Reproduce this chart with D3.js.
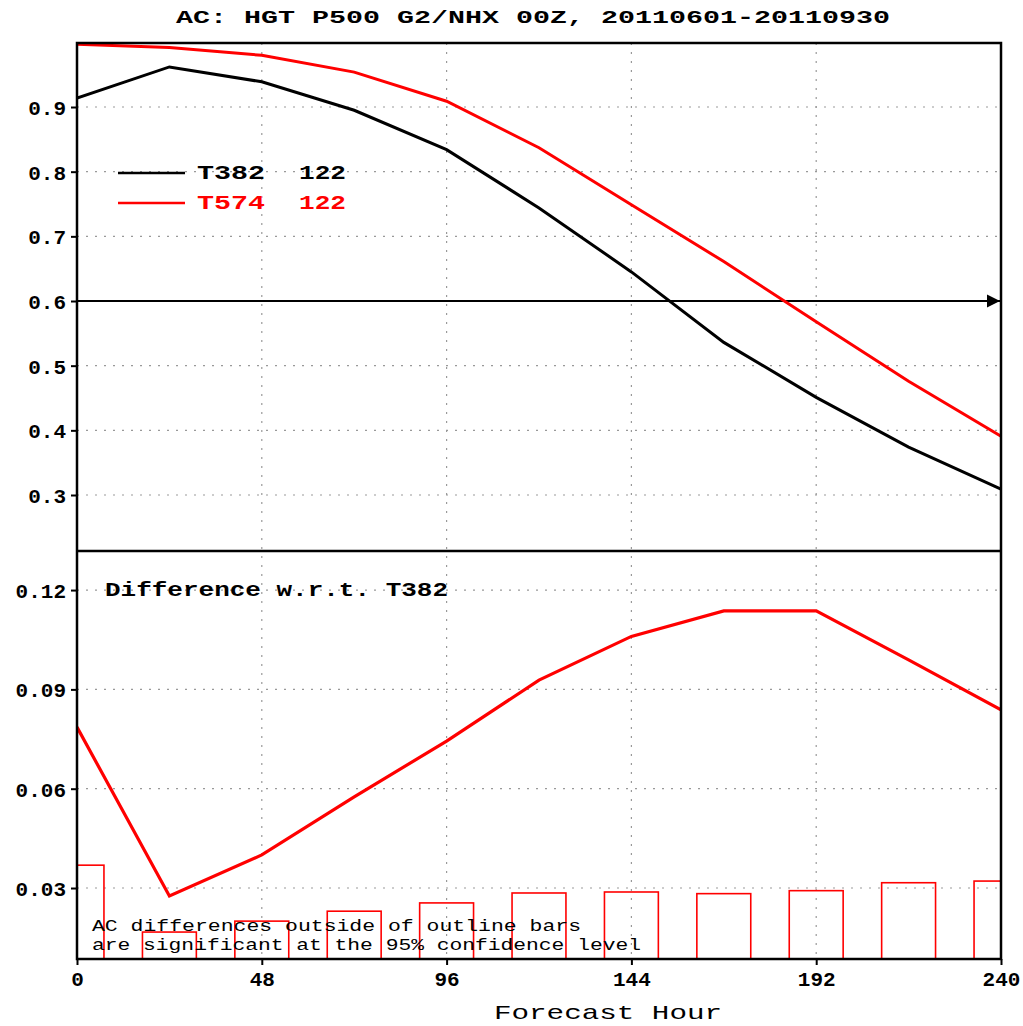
<!DOCTYPE html>
<html><head><meta charset="utf-8">
<script src="https://cdn.jsdelivr.net/npm/d3@7"></script>
<style>body{margin:0;background:#fff}svg{display:block}</style>
</head><body>
<script>
const hours = [0,24,48,72,96,120,144,168,192,216,240];
const t382 = [0.914,0.962,0.939,0.895,0.834,0.744,0.645,0.536,0.451,0.374,0.309];
const t574 = [0.997,0.992,0.980,0.954,0.909,0.837,0.749,0.661,0.568,0.476,0.391];
const diff = [0.0786,0.0276,0.0400,0.0575,0.0744,0.0928,0.1060,0.1137,0.1137,0.0989,0.0838];
const sigBars = [0.0369,0.0167,0.0200,0.0230,0.0255,0.0285,0.0288,0.0283,0.0292,0.0316,0.0321];
const xTicks = [0,48,96,144,192,240];
const topTicks = [0.3,0.4,0.5,0.6,0.7,0.8,0.9];
const botTicks = [0.03,0.06,0.09,0.12];
const topTickLabels = ["0.3","0.4","0.5","0.6","0.7","0.8","0.9"];
const botTickLabels = ["0.03","0.06","0.09","0.12"];
const series = [{name:"T382",n:"122",color:"#000",vals:t382},{name:"T574",n:"122",color:"#f00",vals:t574}];
const refLine = 0.6;

const W=1023,H=1026;
const L=77,R=1001,T=43,M=551,B=959;
const svg=d3.select("body").append("svg").attr("width",W).attr("height",H);
const x=d3.scaleLinear().domain([0,240]).range([L,R]);
const yT=d3.scaleLinear().domain([0.2134,0.9990]).range([M,T]);
const yB=d3.scaleLinear().domain([0.00856,0.1318]).range([B,M]);
const mono='"Liberation Mono","DejaVu Sans Mono",monospace';

svg.append("defs").html(`
<clipPath id="cT"><rect x="${L}" y="${T}" width="${R-L}" height="${M-T}"/></clipPath>
<clipPath id="cB"><rect x="${L}" y="${M}" width="${R-L}" height="${B-M}"/></clipPath>
<marker id="arr" viewBox="0 0 10 10" refX="10" refY="5" markerWidth="6" markerHeight="6" orient="auto" markerUnits="strokeWidth"><path d="M0,0L10,5L0,10z" fill="#000"/></marker>`);

// grid
const g=svg.append("g").attr("stroke","#999").attr("stroke-width",1.2).attr("stroke-dasharray","2,7");
xTicks.filter(d=>d>0&&d<240).forEach(d=>{
  g.append("line").attr("x1",x(d)).attr("x2",x(d)).attr("y1",T).attr("y2",B);
});
topTicks.forEach(d=>g.append("line").attr("x1",L).attr("x2",R).attr("y1",yT(d)).attr("y2",yT(d)));
botTicks.forEach(d=>g.append("line").attr("x1",L).attr("x2",R).attr("y1",yB(d)).attr("y2",yB(d)));

// significance bars
const bw = x(7)-x(0);
svg.append("g").attr("clip-path","url(#cB)").selectAll("rect").data(hours).join("rect")
  .attr("x",(d)=>x(d)-bw).attr("width",2*bw)
  .attr("y",(d,i)=>yB(sigBars[i])).attr("height",(d,i)=>yB(0.00856)-yB(sigBars[i]))
  .attr("fill","none").attr("stroke","#f00").attr("stroke-width",1.6);

// ref arrow line
svg.append("line").attr("x1",L).attr("x2",R-1).attr("y1",yT(refLine)).attr("y2",yT(refLine))
  .attr("stroke","#000").attr("stroke-width",2.2).attr("marker-end","url(#arr)");

// top lines
const lineT=d3.line().x((d,i)=>x(hours[i])).y(d=>yT(d));
svg.append("g").attr("clip-path","url(#cT)").selectAll("path").data(series).join("path")
  .attr("d",d=>lineT(d.vals)).attr("fill","none").attr("stroke",d=>d.color).attr("stroke-width",3);

// diff line
const lineB=d3.line().x((d,i)=>x(hours[i])).y(d=>yB(d));
svg.append("path").attr("clip-path","url(#cB)").attr("d",lineB(diff)).attr("fill","none").attr("stroke","#f00").attr("stroke-width",3.2);

// frame
svg.append("rect").attr("x",L).attr("y",T).attr("width",R-L).attr("height",B-T).attr("fill","none").attr("stroke","#000").attr("stroke-width",2.5);
svg.append("line").attr("x1",L).attr("x2",R).attr("y1",M).attr("y2",M).attr("stroke","#000").attr("stroke-width",2.5);

// axes
const axL=svg.append("g").attr("transform",`translate(${L},0)`);
axL.append("g").call(d3.axisLeft(yT).tickValues(topTicks).tickFormat((d,i)=>topTickLabels[i]).tickSize(6).tickPadding(5));
axL.append("g").call(d3.axisLeft(yB).tickValues(botTicks).tickFormat((d,i)=>botTickLabels[i]).tickSize(6).tickPadding(5));
axL.selectAll(".domain").remove();
axL.selectAll("line").attr("stroke","#000").attr("stroke-width",2);
axL.selectAll("text").attr("font-family",mono).attr("font-weight","bold").attr("font-size",21).attr("fill","#000").attr("dy","0.36em");
const axB=svg.append("g").attr("transform",`translate(0,${B})`).call(d3.axisBottom(x).tickValues(xTicks).tickFormat(d3.format("d")).tickSize(6).tickPadding(5));
axB.select(".domain").remove();
axB.selectAll("line").attr("stroke","#000").attr("stroke-width",2);
axB.selectAll("text").attr("font-family",mono).attr("font-weight","bold").attr("font-size",21).attr("fill","#000").attr("dy","0.75em");

// title
svg.append("text").attr("x",176).attr("y",23).attr("textLength",714).attr("lengthAdjust","spacingAndGlyphs")
  .attr("font-family",mono).attr("font-weight","bold").attr("font-size",19).text("AC: HGT P500 G2/NHX 00Z, 20110601-20110930");

// legend
series.forEach((s,i)=>{
  const yy=173+i*30;
  svg.append("line").attr("x1",118).attr("x2",185).attr("y1",yy).attr("y2",yy).attr("stroke",s.color).attr("stroke-width",2.5);
  svg.append("text").attr("x",197).attr("y",yy+6).attr("fill",s.color).attr("font-family",mono).attr("font-weight","bold").attr("font-size",20).attr("textLength",68).attr("lengthAdjust","spacingAndGlyphs").text(s.name);
  svg.append("text").attr("x",299).attr("y",yy+6).attr("fill",s.color).attr("font-family",mono).attr("font-weight","bold").attr("font-size",20).attr("textLength",47).attr("lengthAdjust","spacingAndGlyphs").text(s.n);
});

svg.append("text").attr("x",105).attr("y",596).attr("textLength",343).attr("lengthAdjust","spacingAndGlyphs")
  .attr("font-family",mono).attr("font-weight","bold").attr("font-size",20).text("Difference w.r.t. T382");

svg.append("text").attr("x",92).attr("y",931).attr("textLength",489).attr("lengthAdjust","spacingAndGlyphs")
  .attr("font-family",mono).attr("font-size",16).text("AC differences outside of outline bars");
svg.append("text").attr("x",92).attr("y",950).attr("textLength",549).attr("lengthAdjust","spacingAndGlyphs")
  .attr("font-family",mono).attr("font-size",16).text("are significant at the 95% confidence level");

svg.append("text").attr("x",494).attr("y",1019).attr("textLength",228).attr("lengthAdjust","spacingAndGlyphs")
  .attr("font-family",mono).attr("font-size",21).text("Forecast Hour");
</script>
</body></html>
